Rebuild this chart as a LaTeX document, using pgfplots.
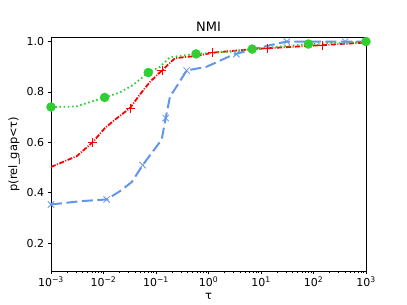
\documentclass[border=0pt]{standalone}
\usepackage{fontspec}
\setmainfont{DejaVu Sans}
\usepackage{pgfplots}
\pgfplotsset{compat=1.18}
\definecolor{mgreen}{RGB}{50,205,50}
\definecolor{mblue}{RGB}{100,149,237}
\begin{document}
\begin{tikzpicture}
\begin{axis}[
  scale only axis, width=315bp, height=234bp,
  xmode=log, xmin=1e-3, xmax=1e3, ymin=0.089, ymax=1.018,
  xtick={1e-3,1e-2,1e-1,1e0,1e1,1e2,1e3},
  xticklabels={10\textsuperscript{−3},10\textsuperscript{−2},10\textsuperscript{−1},10\textsuperscript{0},10\textsuperscript{1},10\textsuperscript{2},10\textsuperscript{3}},
  ytick={0.2,0.4,0.6,0.8,1.0},
  yticklabel style={/pgf/number format/.cd, fixed, fixed zerofill, precision=1, assume math mode=true},
  yminorticks=false, xminorticks=true,
  tick align=outside, tick pos=left,
  major tick length=3.5bp, minor tick length=2bp,
  every tick/.style={black, line width=0.6bp},
  tick label style={font=\fontsize{11}{13}\selectfont},
  xticklabel style={yshift=1bp},
  label style={font=\fontsize{11.5}{13}\selectfont},
  title style={font=\fontsize{13}{15}\selectfont, yshift=-4bp},
  title={NMI},
  xlabel={τ}, ylabel={p(rel\_gap<τ)},
  xlabel style={yshift=0bp}, ylabel style={yshift=0bp},
  axis line style={line width=0.7bp},
  clip=true,
]
% blue
\addplot[mblue, line width=2bp, dash pattern=on 11bp off 4.5bp] coordinates {
(1e-3,0.353) (0.0036,0.366) (0.0115,0.373) (0.0206,0.406) (0.0345,0.442) (0.0557,0.509) (0.083,0.558) (0.128,0.61) (0.153,0.696) (0.185,0.782) (0.248,0.822) (0.384,0.885) (0.92,0.90) (2.9,0.947) (7,0.97) (31,1.0) (400,1.0) (1000,1.0)};
\addplot[mblue, only marks, mark=x, mark size=4.5bp, line width=0.8bp] coordinates {
(1e-3,0.353) (0.0115,0.373) (0.0557,0.509) (0.153,0.696) (0.384,0.885) (3.4,0.95) (31,1.0) (400,1.0)};
% red
\addplot[red, line width=1.8bp, dash pattern=on 5bp off 1.5bp on 1bp off 1.5bp] coordinates {
(1e-3,0.502) (0.0031,0.545) (0.0062,0.60) (0.0107,0.657) (0.0166,0.69) (0.032,0.736) (0.0495,0.79) (0.077,0.84) (0.134,0.888) (0.23,0.934) (0.6,0.943) (1.23,0.956) (7.2,0.970) (85,0.983) (1000,0.996)};
\addplot[red, only marks, mark=+, mark size=4.5bp, line width=0.8bp] coordinates {
(0.0062,0.60) (0.032,0.736) (0.13,0.885) (1.2,0.955) (13.4,0.973) (150,0.986)};
% green
\addplot[mgreen, line width=1.8bp, dash pattern=on 1.6bp off 2.6bp] coordinates {
(1e-3,0.74) (0.003,0.742) (0.0105,0.778) (0.0206,0.798) (0.037,0.828) (0.0714,0.877) (0.12,0.90) (0.185,0.938) (0.6,0.951) (2.9,0.96) (6.8,0.97) (80,0.99) (1000,1.0)};
\addplot[mgreen, only marks, mark=*, mark size=4.5bp] coordinates {
(1e-3,0.74) (0.0105,0.778) (0.0714,0.877) (0.58,0.951) (6.8,0.97) (80,0.99) (1000,1.0)};
\end{axis}
\path[use as bounding box] ([shift={(-51bp,-34bp)}]current axis.south west) rectangle ([shift={(41bp,37bp)}]current axis.north east);
\end{tikzpicture}
\end{document}
